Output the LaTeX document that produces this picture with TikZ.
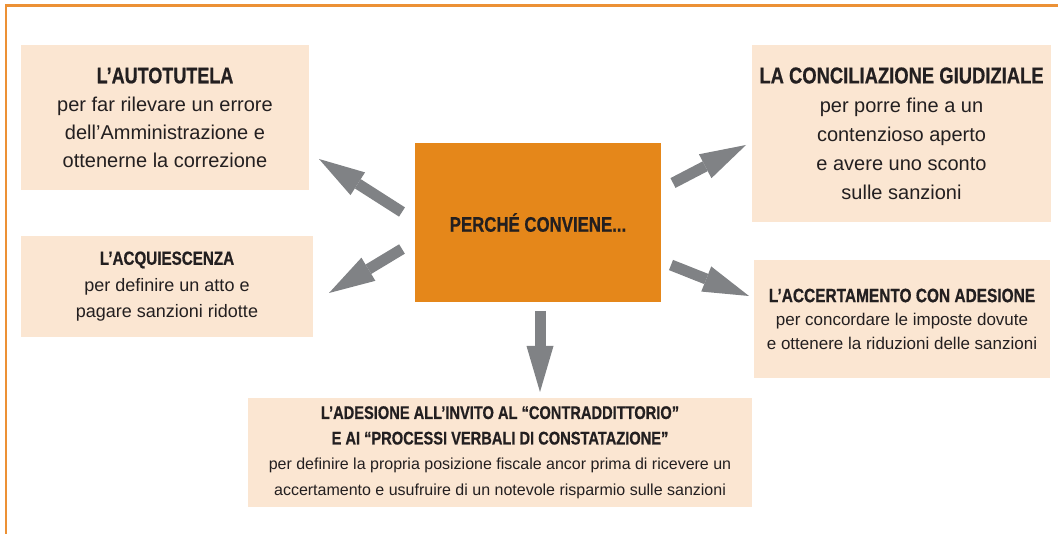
\documentclass[tikz,border=0pt]{standalone}
\usepackage{fontspec}
\setmainfont{Liberation Sans}
\newfontfamily\titlefont[FakeStretch=0.8,BoldFeatures={FakeBold=0.6}]{Liberation Sans}
\usetikzlibrary{arrows.meta}
\definecolor{peach}{HTML}{FBE6D2}
\definecolor{arancio}{HTML}{E5871A}
\definecolor{cornice}{HTML}{EC9135}
\definecolor{grigio}{HTML}{808285}
\definecolor{inchiostro}{HTML}{231F20}
\newcommand{\corpo}[2]{\fontsize{#1}{#2}\selectfont}
\newcommand{\titolo}[2]{{\titlefont\bfseries\fontsize{#1}{#1}\selectfont #2}}
\begin{document}
\begin{tikzpicture}[x=1pt,y=-1pt]
			\tikzset{card/.style={fill=peach, text=inchiostro, align=center, inner sep=0pt},
			freccia/.style={draw=grigio, line width=11pt, -{Triangle[width=27pt,length=46pt,line width=0pt]}}}
\useasboundingbox (0,0) rectangle (1058,534);
\draw [cornice, line width=2.2pt] (1058,5.5) -- (6,5.5) -- (6,534);

\node[card, minimum width=288pt, minimum height=145pt, font={\corpo{20}{28}}] at (165,117.5) (aut) {\titolo{22.5}{L’AUTOTUTELA}\\per far rilevare un errore\\dell’Amministrazione e\\ottenerne la correzione};
\node[card, minimum width=299pt, minimum height=177pt, font={\corpo{20}{29}}] at (901.5,133.5) (conc) {\titolo{23}{LA CONCILIAZIONE GIUDIZIALE}\\per porre fine a un\\contenzioso aperto\\e avere uno sconto\\sulle sanzioni};
\node[card, minimum width=292pt, minimum height=101pt, font={\corpo{18}{26.5}}] at (167,286.5) (acq) {\titolo{19}{L’ACQUIESCENZA}\\per definire un atto e\\pagare sanzioni ridotte};
\node[card, minimum width=296pt, minimum height=118pt, font={\corpo{17}{23.5}}] at (902,319) (acc) {\titolo{19.3}{L’ACCERTAMENTO CON ADESIONE}\\per concordare le imposte dovute\\e ottenere la riduzioni delle sanzioni};
\node[card, minimum width=504pt, minimum height=109pt, font={\corpo{16}{25.5}}] at (500,452.5) (ades) {\titolo{18.3}{L’ADESIONE ALL’INVITO AL “CONTRADDITTORIO”}\\\titolo{18.3}{E AI “PROCESSI VERBALI DI CONSTATAZIONE”}\\per definire la propria posizione fiscale ancor prima di ricevere un\\accertamento e usufruire di un notevole risparmio sulle sanzioni};
\node[fill=arancio, text=inchiostro, minimum width=246pt, minimum height=159pt, inner sep=0pt] at (538,222.5) (perche) {\titolo{21}{PERCHÉ CONVIENE...}};

\coordinate (p-aut) at (402,212);
\coordinate (aut-p) at (319,159);
\coordinate (p-acq) at (402,249);
\coordinate (acq-p) at (329,293);
\coordinate (p-conc) at (673,183);
\coordinate (conc-p) at (746,145);
\coordinate (p-acc) at (671,265);
\coordinate (acc-p) at (749,296);
\coordinate (p-ades) at (540,311);
\coordinate (ades-p) at (540,392);
			\draw [freccia] (p-aut) -- (aut-p);
			\draw [freccia] (p-acq) -- (acq-p);
			\draw [freccia] (p-conc) -- (conc-p);
			\draw [freccia] (p-acc) -- (acc-p);
			\draw [freccia] (p-ades) -- (ades-p);
		\end{tikzpicture}
\end{document}
